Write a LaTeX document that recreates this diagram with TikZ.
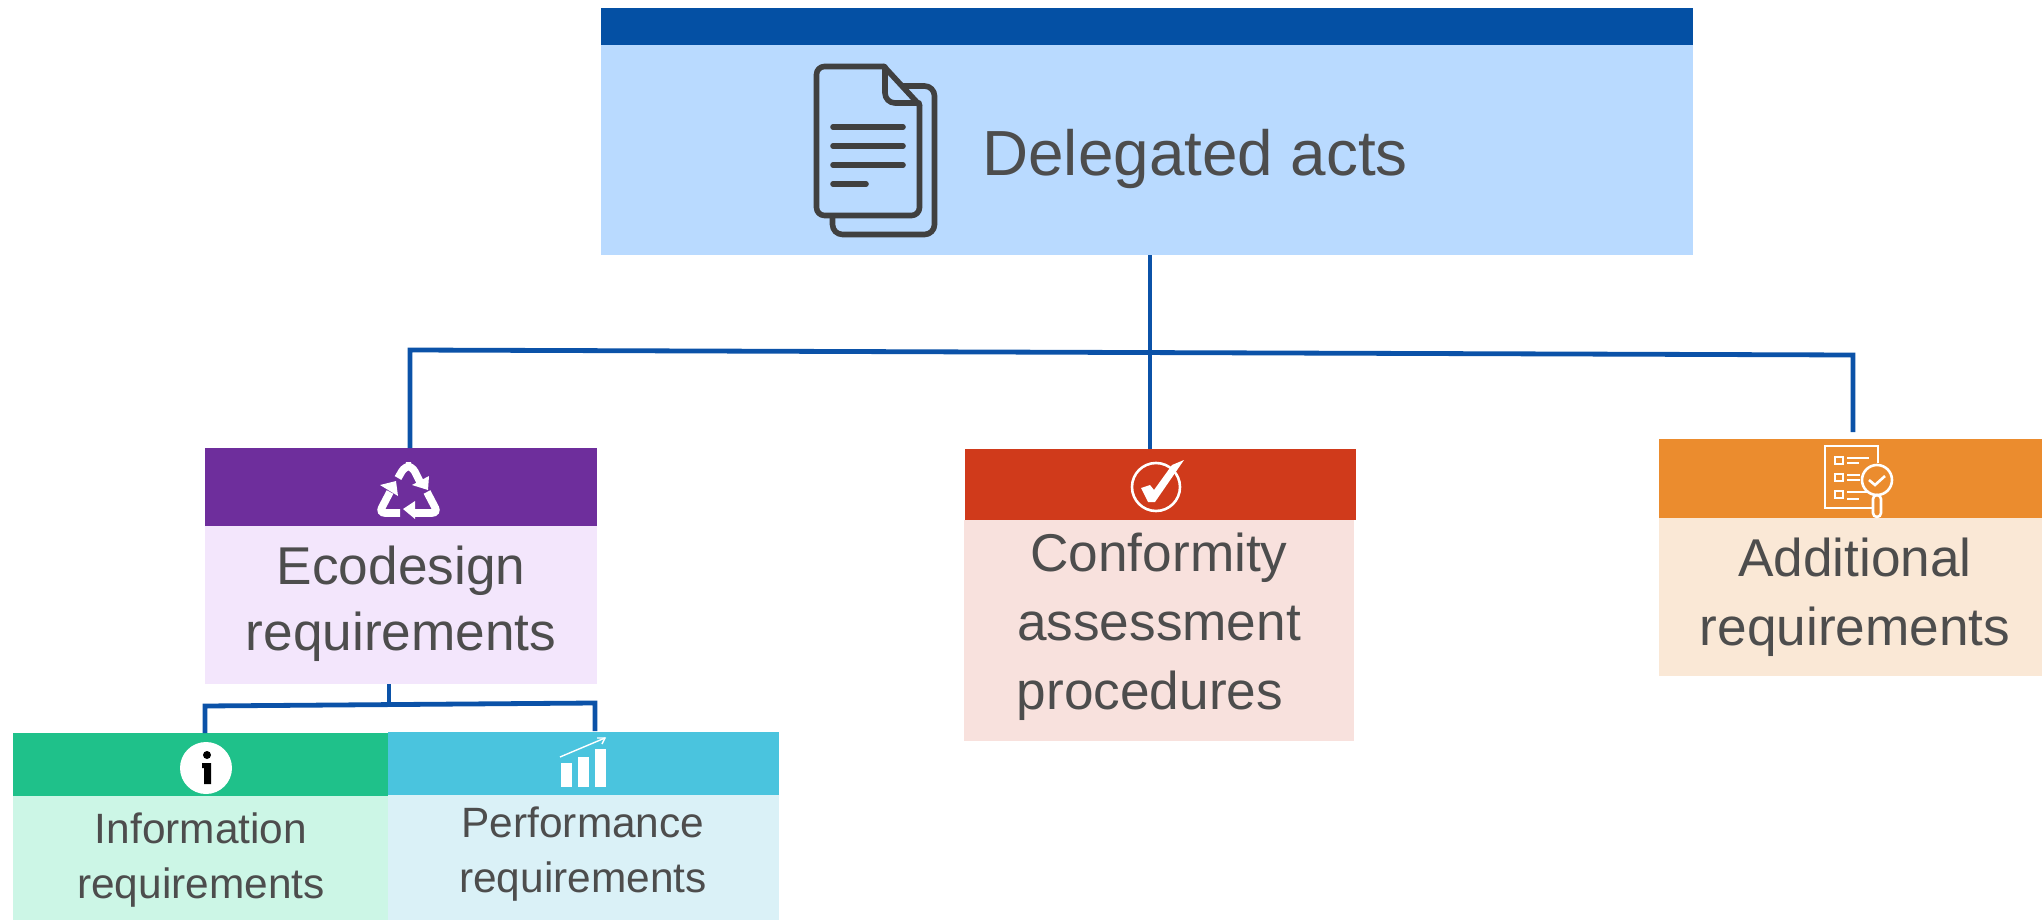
\documentclass[tikz,border=0pt]{standalone}
\usepackage{fontspec}
\setmainfont{Liberation Sans}
\definecolor{hdblue}{HTML}{0450A4}
\definecolor{bdblue}{HTML}{B9DAFF}
\definecolor{hdpurple}{HTML}{6E2E9C}
\definecolor{bdpurple}{HTML}{F3E6FC}
\definecolor{hdred}{HTML}{D03A1B}
\definecolor{bdred}{HTML}{F8E1DD}
\definecolor{hdorange}{HTML}{EB8C2E}
\definecolor{bdorange}{HTML}{FAE8D6}
\definecolor{hdgreen}{HTML}{1FC18A}
\definecolor{bdgreen}{HTML}{CCF6E6}
\definecolor{hdcyan}{HTML}{4AC4DE}
\definecolor{bdcyan}{HTML}{DAF1F7}
\definecolor{conncol}{HTML}{0B52A8}
\definecolor{txtcol}{HTML}{4D4D4D}
\definecolor{iconcol}{HTML}{404040}
\newcommand{\pxbox}[6]{%
  \pgfmathsetlengthmacro{\bw}{(#5-#3)*0.5pt}%
  \pgfmathsetlengthmacro{\bh}{(#6-#4)*0.5pt}%
  \node[boxn,fill=#2,minimum width=\bw,minimum height=\bh] (#1) at (#3,#4) {};}
\tikzset{
  boxn/.style={rectangle,anchor=north west,inner sep=0pt,outer sep=0pt,draw=none},
  conn/.style={draw=conncol,line width=2.4pt},
  biglabel/.style={text=txtcol,align=center,font=\fontsize{26.6}{34.5}\selectfont,inner sep=0pt},
  smalllabel/.style={text=txtcol,align=center,font=\fontsize{21.2}{27.5}\selectfont,inner sep=0pt},
  docline/.style={draw=iconcol,line width=2.8pt,line cap=round,line join=round},
  whiteline/.style={draw=white,line width=1.3pt},
  recyc/.style={draw=white,line width=3.8pt,rounded corners=3pt},
}
\begin{document}
\begin{tikzpicture}[x=0.5pt,y=-0.5pt]
\useasboundingbox (0,0) rectangle (2042,920);
% boxes
\pxbox{topB}{bdblue}{601}{45}{1693}{255}
\pxbox{topH}{hdblue}{601}{8}{1693}{45}
\pxbox{ecoB}{bdpurple}{205}{526}{597}{684}
\pxbox{ecoH}{hdpurple}{205}{448}{597}{526}
\pxbox{confB}{bdred}{964}{520}{1354}{741}
\pxbox{confH}{hdred}{965}{449}{1356}{520}
\pxbox{addB}{bdorange}{1659}{518}{2042}{676}
\pxbox{addH}{hdorange}{1659}{439}{2042}{518}
\pxbox{infoB}{bdgreen}{13}{796}{388}{920}
\pxbox{infoH}{hdgreen}{13}{733}{388}{796}
\pxbox{perfB}{bdcyan}{388}{795}{779}{920}
\pxbox{perfH}{hdcyan}{388}{732}{779}{795}
% labels
\node[text=txtcol,anchor=base west,inner sep=0pt,font=\fontsize{31.9}{36}\selectfont] (delegated) at (982,176) {Delegated acts};
\node[biglabel,font=\fontsize{26.6}{33}\selectfont] (ecoT) at (401,604) {Ecodesign\\requirements};
\node[biglabel] (confT) at (1159,627) {Conformity\\assessment\\procedures\hspace*{9pt}};
\node[biglabel] (addT) at (1855,597) {Additional\\requirements};
\node[smalllabel] (infoT) at (201,860) {Information\\requirements};
\node[smalllabel] (perfT) at (583,854) {Performance\\requirements};
% connectors
\coordinate (jl) at (410,350);
\coordinate (jc) at (1150,352);
\coordinate (jr) at (1853,355);
\coordinate (rend) at (1853,432);
\draw[conn] (topB.south -| jc) -- (jc |- confH.north);
\draw[conn] (jl |- ecoH.north) -- (jl) -- (jr) -- (rend);
\coordinate (kl) at (205,706);
\coordinate (kc) at (389,705);
\coordinate (kr) at (595,703);
\coordinate (kre) at (595,731);
\draw[conn] (kc |- ecoB.south) -- (kc);
\draw[conn] (kl |- infoH.north) -- (kl) -- (kr) -- (kre);
% document icon
\draw[docline,rounded corners=5pt] (903,86) -- (934.5,86) -- (934.5,234.5) -- (832.5,234.5) -- (832.5,218);
\draw[docline,fill=bdblue,rounded corners=4pt] (884,66.5) -- (816.5,66.5) -- (816.5,215.5) -- (919.5,215.5) -- (919.5,105);
\draw[docline] (884,66.5) -- (919.5,105);
\draw[docline,rounded corners=5pt] (885,67) -- (885,103) -- (919,103);
\draw[docline] (833,127) -- (903,127);
\draw[docline] (833,146) -- (903,146);
\draw[docline] (833,165) -- (903,165);
\draw[docline] (833,184) -- (866,184);
% recycling icon
\draw[recyc] (398,478) -- (405,466) -- (412,466) -- (420,482);
\fill[white] (429,476) -- (428,490) -- (412,485) -- cycle;
\draw[recyc] (400,513) -- (379,513) -- (390,492);
\fill[white] (380,485) -- (396,481) -- (398,496) -- cycle;
\draw[recyc] (427,492) -- (438,513) -- (415,513);
\fill[white] (403,509) -- (415,501) -- (415,519) -- cycle;
% check icon
\draw[whiteline] (1156,487) circle (24);
\fill[white] (1141,488) -- (1150,485) -- (1154,490) -- (1172,465) -- (1184,460) -- (1155,502) -- (1148,502) -- cycle;
% checklist icon
\begin{scope}[whiteline]
\draw (1878,463) -- (1878,446) -- (1825,446) -- (1825,508) -- (1872,508);
\draw (1835,457) rectangle (1843,464);
\draw (1835,474) rectangle (1843,481);
\draw (1835,491) rectangle (1843,498);
\draw (1847,458) -- (1869,458);
\draw (1847,463) -- (1859,463);
\draw (1847,475) -- (1860,475);
\draw (1847,480) -- (1860,480);
\draw (1847,492) -- (1867,492);
\draw (1847,499) -- (1859,499);
\draw (1877,480) circle (15);
\draw (1869,480) -- (1875,485) -- (1885,476);
\draw[rounded corners=2pt] (1873,495) rectangle (1881,517);
\end{scope}
% info icon
\fill[white] (206,768) circle (26);
\fill[black] (207,755) circle (4);
\fill[black] (202,763) -- (211,763) -- (211,784) -- (204,784) -- (204,768) -- (202,768) -- cycle;
% performance icon
\fill[white] (561,763) rectangle (572,787);
\fill[white] (578,757) rectangle (589,787);
\fill[white] (595,749) rectangle (606,787);
\draw[draw=white,line width=0.7pt] (560,757) -- (605,738);
\draw[draw=white,line width=0.7pt] (597,738) -- (605,738) -- (602,744);
\end{tikzpicture}
\end{document}
